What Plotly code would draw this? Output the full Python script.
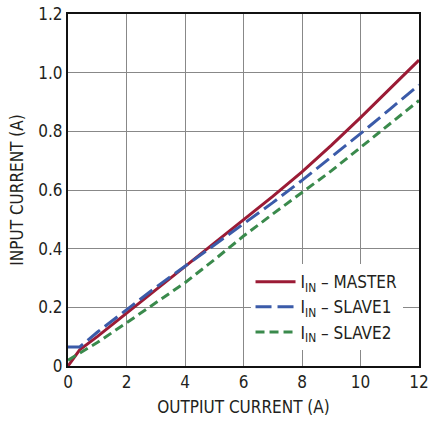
import plotly.graph_objects as go

x_master = [0, 0.4, 1, 2, 3, 4, 5, 6, 7, 8, 9, 10, 11, 12]
y_master = [0, 0.055, 0.10, 0.18, 0.258, 0.337, 0.417, 0.498, 0.578, 0.662, 0.752, 0.847, 0.945, 1.043]
x_slave1 = [0, 0.4, 1, 2, 3, 4, 5, 6, 7, 8, 9, 10, 11, 12]
y_slave1 = [0.065, 0.065, 0.115, 0.192, 0.268, 0.34, 0.412, 0.483, 0.557, 0.633, 0.712, 0.792, 0.875, 0.958]
x_slave2 = [0, 1, 2, 3, 4, 5, 6, 7, 8, 9, 10, 11, 12]
y_slave2 = [0.02, 0.08, 0.147, 0.215, 0.284, 0.362, 0.443, 0.518, 0.59, 0.665, 0.745, 0.825, 0.905]

x_ticks = [0, 2, 4, 6, 8, 10, 12]
y_ticks = [0, 0.2, 0.4, 0.6, 0.8, 1.0, 1.2]
y_ticklabels = ["0", "0.2", "0.4", "0.6", "0.8", "1.0", "1.2"]

FONT = "DejaVu Sans Condensed, Roboto Condensed, Liberation Sans Narrow, Roboto, sans-serif"

fig = go.Figure()
fig.add_trace(go.Scatter(x=x_master, y=y_master, mode="lines", name="I<sub>IN</sub> – MASTER",
                         line=dict(color="#9B1B35", width=3)))
fig.add_trace(go.Scatter(x=x_slave1, y=y_slave1, mode="lines", name="I<sub>IN</sub> – SLAVE1",
                         line=dict(color="#3B5BA9", width=3, dash="16px,6px")))
fig.add_trace(go.Scatter(x=x_slave2, y=y_slave2, mode="lines", name="I<sub>IN</sub> – SLAVE2",
                         line=dict(color="#3A8A4C", width=3, dash="9px,5px")))

fig.update_layout(
    width=429, height=422,
    margin=dict(l=68, r=10, t=14, b=56),
    paper_bgcolor="white", plot_bgcolor="white",
    font=dict(family=FONT, size=17, color="#231F20"),
    showlegend=True,
    legend=dict(x=0.52, y=0.045, xanchor="left", yanchor="bottom",
                bgcolor="white", borderwidth=0, font=dict(size=17),
                tracegroupgap=0, itemwidth=40),
    xaxis=dict(range=[0, 12], tickvals=x_ticks, showgrid=True, gridcolor="#888", gridwidth=1,
               showline=True, linecolor="#111", linewidth=2, mirror=True, ticks="",
               zeroline=False, automargin=False, tickfont=dict(size=17), ticklabeloverflow="allow",
               title=dict(text="OUTPIUT CURRENT (A)", font=dict(size=17), standoff=10)),
    yaxis=dict(range=[0, 1.2], tickvals=y_ticks, ticktext=y_ticklabels, showgrid=True,
               gridcolor="#888", gridwidth=1, showline=True, linecolor="#111", linewidth=2,
               mirror=True, ticks="", zeroline=False, automargin=False, tickfont=dict(size=17),
               ticklabeloverflow="allow",
               title=dict(text="INPUT CURRENT (A)", font=dict(size=17), standoff=10)),
)
fig.write_html("out.html", config={"displayModeBar": False},
               post_script="document.body.style.margin='0';")
